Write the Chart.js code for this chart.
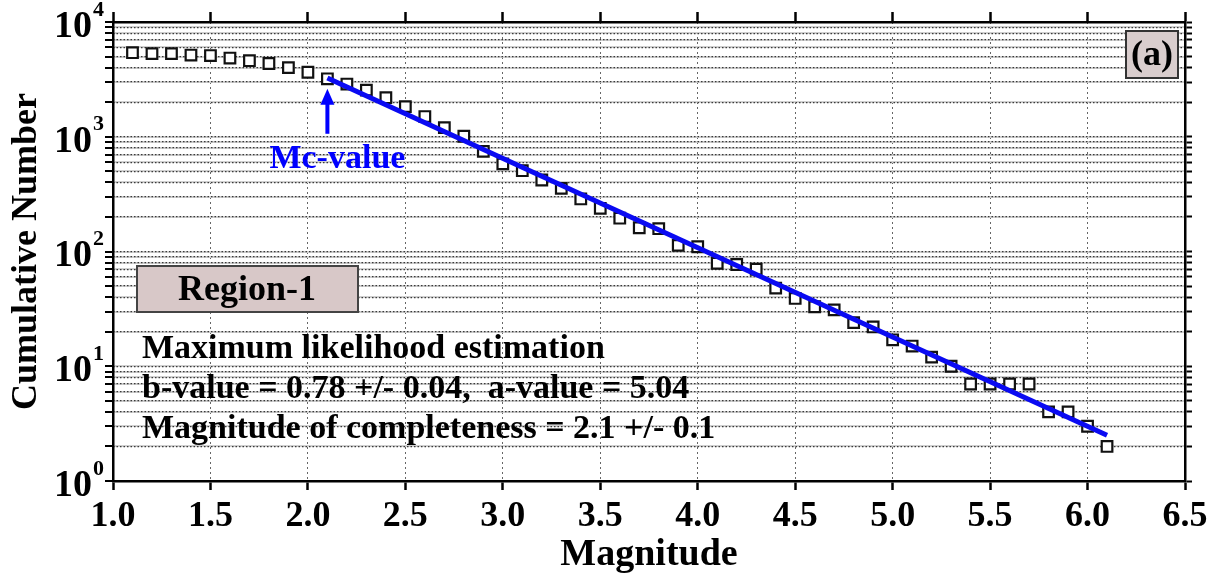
<!DOCTYPE html>
<html>
<head>
<meta charset="utf-8">
<script src="https://cdn.jsdelivr.net/npm/chart.js@4.4.1/dist/chart.umd.min.js"></script>
<style>
  html, body { margin: 0; padding: 0; background: #fff; }
  #wrap { width: 1220px; height: 578px; }
</style>
</head>
<body>
<div id="wrap"><canvas id="fmd"></canvas></div>
<script>
// Cumulative frequency-magnitude distribution, Region-1
const magnitudes = [1.1, 1.2, 1.3, 1.4, 1.5, 1.6, 1.7, 1.8, 1.9, 2.0,
                    2.1, 2.2, 2.3, 2.4, 2.5, 2.6, 2.7, 2.8, 2.9, 3.0,
                    3.1, 3.2, 3.3, 3.4, 3.5, 3.6, 3.7, 3.8, 3.9, 4.0,
                    4.1, 4.2, 4.3, 4.4, 4.5, 4.6, 4.7, 4.8, 4.9, 5.0,
                    5.1, 5.2, 5.3, 5.4, 5.5, 5.6, 5.7, 5.8, 5.9, 6.0, 6.1];
const cumulative = [5400, 5300, 5300, 5150, 5100, 4850, 4600, 4350, 4000, 3650,
                    3200, 2880, 2550, 2190, 1830, 1500, 1200, 1010, 745, 580,
                    506, 420, 355, 287, 238, 195, 161, 158, 113, 110,
                    79, 77, 70, 48, 39, 33, 31, 24, 22, 17,
                    15, 12, 10, 7, 7, 7, 7, 4, 4, 3, 2];

// G-R fit line from Mc to the largest event
const fitMagnitudes = [2.1, 6.1];
const fitCounts = [3250, 2.5];

const xTicks = [1.0, 1.5, 2.0, 2.5, 3.0, 3.5, 4.0, 4.5, 5.0, 5.5, 6.0, 6.5];
const yDecades = [1, 10, 100, 1000, 10000];
const yExponents = ['0', '1', '2', '3', '4'];
const mcValue = 2.1;
const infoLines = [
  'Maximum likelihood estimation',
  'b-value = 0.78 +/- 0.04,  a-value = 5.04',
  'Magnitude of completeness = 2.1 +/- 0.1'
];

const FONT = '"Liberation Serif", "Times New Roman", serif';

// 1..9 x 10^n positions for the log grid
const logTicks = [];
yDecades.slice(0, -1).forEach(d => { for (let k = 1; k <= 9; k++) logTicks.push(k * d); });
logTicks.push(yDecades[yDecades.length - 1]);

const setLogTicks = s => { s.ticks = logTicks.map(v => ({ value: v })); };
const setXTicks = s => { s.ticks = xTicks.map(v => ({ value: v })); };

const overlay = {
  id: 'overlay',
  afterDraw(chart) {
    const { ctx, chartArea: a, scales: { x, y } } = chart;
    ctx.save();
    ctx.fillStyle = '#000';

    // decade labels 10^n
    yDecades.forEach((v, i) => {
      const py = y.getPixelForValue(v);
      ctx.font = 'bold 38px ' + FONT;
      ctx.textAlign = 'right';
      ctx.textBaseline = 'middle';
      ctx.fillText('10', a.left - 21, py + 5);
      ctx.font = 'bold 22px ' + FONT;
      ctx.textAlign = 'left';
      ctx.fillText(yExponents[i], a.left - 20, py - 12);
    });

    // (a) panel tag
    ctx.fillStyle = '#d9cdcd';
    ctx.strokeStyle = '#333';
    ctx.lineWidth = 2;
    ctx.fillRect(a.right - 59, a.top + 9, 52, 47);
    ctx.strokeRect(a.right - 59, a.top + 9, 52, 47);
    ctx.fillStyle = '#000';
    ctx.font = 'bold 36px ' + FONT;
    ctx.textAlign = 'center';
    ctx.textBaseline = 'middle';
    ctx.fillText('(a)', a.right - 33, a.top + 34);

    // region tag
    ctx.fillStyle = '#d8c8c8';
    ctx.fillRect(a.left + 24, a.top + 244, 221, 46);
    ctx.strokeStyle = '#444';
    ctx.strokeRect(a.left + 24, a.top + 244, 221, 46);
    ctx.fillStyle = '#000';
    ctx.font = 'bold 36px ' + FONT;
    ctx.fillText('Region-1', a.left + 134, a.top + 269);

    // estimation results
    ctx.font = 'bold 34px ' + FONT;
    ctx.textAlign = 'left';
    ctx.textBaseline = 'alphabetic';
    infoLines.forEach((t, i) => ctx.fillText(t, a.left + 29, a.top + 336 + i * 40));

    // Mc arrow
    const ax = x.getPixelForValue(mcValue);
    const tip = y.getPixelForValue(cumulative[magnitudes.indexOf(mcValue)]) + 10;
    ctx.strokeStyle = '#0000ff';
    ctx.fillStyle = '#0000ff';
    ctx.lineWidth = 4;
    ctx.beginPath();
    ctx.moveTo(ax, tip + 12);
    ctx.lineTo(ax, tip + 45);
    ctx.stroke();
    ctx.beginPath();
    ctx.moveTo(ax, tip);
    ctx.lineTo(ax - 7, tip + 16);
    ctx.lineTo(ax + 7, tip + 16);
    ctx.closePath();
    ctx.fill();
    ctx.font = 'bold 34px ' + FONT;
    ctx.textAlign = 'center';
    ctx.textBaseline = 'middle';
    ctx.fillText('Mc-value', ax + 10, tip + 70);
    ctx.restore();
  }
};

new Chart(document.getElementById('fmd'), {
  type: 'scatter',
  data: {
    datasets: [
      {
        type: 'line',
        label: 'fit',
        data: fitMagnitudes.map((m, i) => ({ x: m, y: fitCounts[i] })),
        borderColor: '#0a0af2',
        borderWidth: 5,
        pointRadius: 0,
        fill: false,
        order: 0
      },
      {
        label: 'cumulative',
        data: magnitudes.map((m, i) => ({ x: m, y: cumulative[i] })),
        pointStyle: 'rect',
        pointRadius: 7.5,
        pointBorderWidth: 2.2,
        pointBorderColor: '#111',
        pointBackgroundColor: '#fff',
        order: 1
      }
    ]
  },
  options: {
    responsive: true,
    maintainAspectRatio: false,
    animation: false,
    layout: { padding: 0 },
    plugins: { legend: { display: false }, tooltip: { enabled: false } },
    scales: {
      x: {
        type: 'linear',
        position: 'bottom',
        min: 1.0,
        max: 6.5,
        afterBuildTicks: setXTicks,
        afterFit: s => { s.height = 97; },
        ticks: {
          font: { family: FONT, size: 36, weight: 'bold' },
          color: '#000',
          padding: 5,
          maxRotation: 0,
          callback: v => Number(v).toFixed(1)
        },
        grid: {
          color: '#666',
          lineWidth: 1,
          tickLength: 9,
          tickColor: '#000',
          tickWidth: 2.5,
          tickBorderDash: []
        },
        border: { color: '#000', width: 2.5, dash: [2, 3] },
        title: {
          display: true,
          text: 'Magnitude',
          color: '#000',
          font: { family: FONT, size: 38, weight: 'bold' },
          padding: { top: 0, bottom: 0 }
        }
      },
      xTop: {
        type: 'linear',
        position: 'top',
        min: 1.0,
        max: 6.5,
        afterBuildTicks: setXTicks,
        afterFit: s => { s.height = 22; },
        ticks: { display: false },
        grid: { drawOnChartArea: false, tickLength: 10, tickColor: '#000', tickWidth: 2.5 },
        border: { color: '#000', width: 2.5 }
      },
      y: {
        type: 'logarithmic',
        position: 'left',
        min: 1,
        max: 10000,
        afterBuildTicks: setLogTicks,
        afterFit: s => { s.width = 113; },
        ticks: { display: false },
        grid: {
          color: '#cfcfcf',
          lineWidth: 2,
          tickLength: 8,
          tickColor: '#000',
          tickWidth: 2
        },
        border: { color: '#000', width: 2.5 },
        title: {
          display: true,
          text: 'Cumulative Number',
          color: '#000',
          font: { family: FONT, size: 36, weight: 'bold' },
          padding: { top: 5, bottom: 0 }
        }
      },
      yDots: {
        type: 'logarithmic',
        position: 'left',
        min: 1,
        max: 10000,
        afterBuildTicks: setLogTicks,
        afterFit: s => { s.width = 0; },
        ticks: { display: false },
        grid: { color: '#3a3a3a', lineWidth: 1.2, drawTicks: false },
        border: { display: false, dash: [1.5, 2] }
      },
      yRight: {
        type: 'logarithmic',
        position: 'right',
        min: 1,
        max: 10000,
        afterBuildTicks: setLogTicks,
        afterFit: s => { s.width = 35; },
        ticks: { display: false },
        grid: { drawOnChartArea: false, tickLength: 7, tickColor: '#000', tickWidth: 2 },
        border: { color: '#000', width: 2.5 }
      }
    }
  },
  plugins: [overlay]
});
</script>
</body>
</html>
